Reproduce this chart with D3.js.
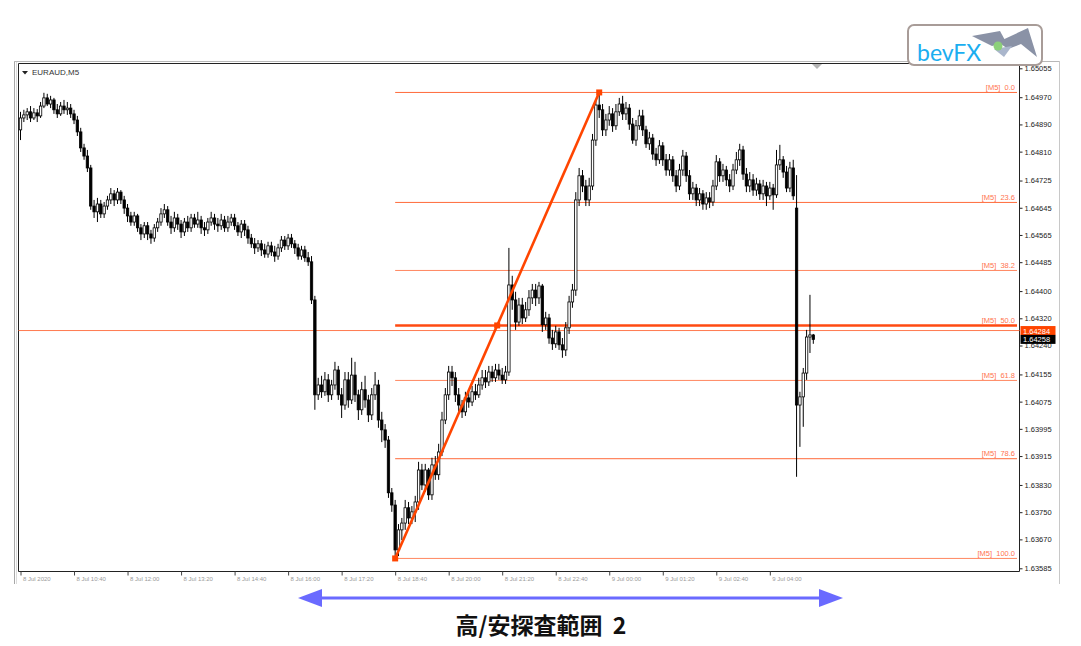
<!DOCTYPE html>
<html><head><meta charset="utf-8">
<script src="https://cdn.jsdelivr.net/npm/d3@7"></script>
<style>
body{margin:0;background:#fff;}
svg{display:block;font-family:"Liberation Sans",Arial,sans-serif;}
</style>
</head><body>
<svg id="c" width="1081" height="646"></svg>
<script>
// ---------------- DATA ----------------
const symbolLabel = "EURAUD,M5";
const captionText = "高/安探査範囲  2";
const logoText = "bevFX";

const barOpen = [1.64874,1.64909,1.64918,1.64927,1.64909,1.64924,1.64915,1.64944,1.64968,1.64950,
1.64962,1.64933,1.64921,1.64944,1.64933,1.64938,1.64921,1.64903,1.64868,1.64821,
1.64797,1.64762,1.64650,1.64633,1.64656,1.64627,1.64650,1.64668,1.64686,1.64668,
1.64691,1.64668,1.64644,1.64621,1.64603,1.64621,1.64586,1.64568,1.64592,1.64568,
1.64556,1.64586,1.64603,1.64627,1.64639,1.64603,1.64586,1.64615,1.64597,1.64574,
1.64603,1.64586,1.64615,1.64597,1.64609,1.64586,1.64580,1.64603,1.64615,1.64597,
1.64592,1.64609,1.64586,1.64603,1.64615,1.64592,1.64574,1.64597,1.64580,1.64556,
1.64539,1.64527,1.64539,1.64521,1.64509,1.64533,1.64515,1.64503,1.64527,1.64550,
1.64533,1.64556,1.64539,1.64527,1.64503,1.64521,1.64498,1.64486,1.64374,1.64095,
1.64124,1.64104,1.64139,1.64095,1.64124,1.64168,1.64095,1.64065,1.64139,1.64080,
1.64153,1.64095,1.64051,1.64110,1.64080,1.64036,1.64095,1.64124,1.64021,1.63992,
1.63962,1.63807,1.63771,1.63639,1.63698,1.63718,1.63763,1.63733,1.63751,1.63780,
1.63874,1.63830,1.63874,1.63801,1.63889,1.63860,1.63927,1.64021,1.64095,1.64162,
1.64145,1.64095,1.64065,1.64045,1.64086,1.64074,1.64104,1.64095,1.64124,1.64145,
1.64133,1.64162,1.64145,1.64168,1.64153,1.64139,1.64162,1.64418,1.64374,1.64309,
1.64359,1.64321,1.64345,1.64380,1.64403,1.64380,1.64415,1.64301,1.64321,1.64262,
1.64245,1.64280,1.64242,1.64227,1.64292,1.64368,1.64403,1.64668,1.64739,1.64709,
1.64668,1.64709,1.64844,1.64947,1.64933,1.64874,1.64903,1.64921,1.64886,1.64927,
1.64950,1.64921,1.64938,1.64891,1.64844,1.64886,1.64915,1.64874,1.64833,1.64850,
1.64803,1.64786,1.64827,1.64786,1.64756,1.64786,1.64739,1.64709,1.64756,1.64797,
1.64739,1.64686,1.64703,1.64668,1.64686,1.64656,1.64674,1.64662,1.64709,1.64780,
1.64739,1.64756,1.64727,1.64709,1.64756,1.64786,1.64815,1.64744,1.64709,1.64727,
1.64697,1.64715,1.64686,1.64709,1.64680,1.64703,1.64683,1.64771,1.64786,1.64750,
1.64703,1.64762,1.64644,1.64065,1.64089,1.64159,1.64265,1.64271];

const barClose = [1.64909,1.64918,1.64927,1.64909,1.64924,1.64915,1.64944,1.64968,1.64950,1.64962,
1.64933,1.64921,1.64944,1.64933,1.64938,1.64921,1.64903,1.64868,1.64821,1.64797,
1.64762,1.64650,1.64633,1.64656,1.64627,1.64650,1.64668,1.64686,1.64668,1.64691,
1.64668,1.64644,1.64621,1.64603,1.64621,1.64586,1.64568,1.64592,1.64568,1.64556,
1.64586,1.64603,1.64627,1.64639,1.64603,1.64586,1.64615,1.64597,1.64574,1.64603,
1.64586,1.64615,1.64597,1.64609,1.64586,1.64580,1.64603,1.64615,1.64597,1.64592,
1.64609,1.64586,1.64603,1.64615,1.64592,1.64574,1.64597,1.64580,1.64556,1.64539,
1.64527,1.64539,1.64521,1.64509,1.64533,1.64515,1.64503,1.64527,1.64550,1.64533,
1.64556,1.64539,1.64527,1.64503,1.64521,1.64498,1.64486,1.64374,1.64095,1.64124,
1.64104,1.64139,1.64095,1.64124,1.64168,1.64095,1.64065,1.64139,1.64080,1.64153,
1.64095,1.64051,1.64110,1.64080,1.64036,1.64095,1.64124,1.64021,1.63992,1.63962,
1.63807,1.63771,1.63639,1.63698,1.63718,1.63763,1.63733,1.63751,1.63780,1.63874,
1.63830,1.63874,1.63801,1.63889,1.63860,1.63927,1.64021,1.64095,1.64162,1.64145,
1.64095,1.64065,1.64045,1.64086,1.64074,1.64104,1.64095,1.64124,1.64145,1.64133,
1.64162,1.64145,1.64168,1.64153,1.64139,1.64162,1.64418,1.64374,1.64309,1.64359,
1.64321,1.64345,1.64380,1.64403,1.64380,1.64415,1.64301,1.64321,1.64262,1.64245,
1.64280,1.64242,1.64227,1.64292,1.64368,1.64403,1.64668,1.64739,1.64709,1.64668,
1.64709,1.64844,1.64947,1.64933,1.64874,1.64903,1.64921,1.64886,1.64927,1.64950,
1.64921,1.64938,1.64891,1.64844,1.64886,1.64915,1.64874,1.64833,1.64850,1.64803,
1.64786,1.64827,1.64786,1.64756,1.64786,1.64739,1.64709,1.64756,1.64797,1.64739,
1.64686,1.64703,1.64668,1.64686,1.64656,1.64674,1.64662,1.64709,1.64780,1.64739,
1.64756,1.64727,1.64709,1.64756,1.64786,1.64815,1.64744,1.64709,1.64727,1.64697,
1.64715,1.64686,1.64709,1.64680,1.64703,1.64683,1.64771,1.64786,1.64750,1.64703,
1.64762,1.64680,1.64065,1.64089,1.64159,1.64265,1.64271,1.64258];

const barHigh = [1.64927,1.64933,1.64938,1.64944,1.64938,1.64935,1.64956,1.64983,1.64980,1.64974,
1.64968,1.64950,1.64956,1.64962,1.64956,1.64950,1.64933,1.64915,1.64880,1.64833,
1.64815,1.64771,1.64668,1.64674,1.64668,1.64662,1.64680,1.64703,1.64697,1.64703,
1.64697,1.64680,1.64656,1.64633,1.64633,1.64627,1.64597,1.64603,1.64603,1.64580,
1.64597,1.64615,1.64644,1.64656,1.64650,1.64621,1.64633,1.64627,1.64609,1.64615,
1.64621,1.64627,1.64627,1.64633,1.64621,1.64603,1.64615,1.64633,1.64627,1.64615,
1.64627,1.64621,1.64621,1.64627,1.64627,1.64603,1.64609,1.64609,1.64592,1.64568,
1.64556,1.64550,1.64550,1.64539,1.64545,1.64545,1.64533,1.64539,1.64562,1.64562,
1.64568,1.64568,1.64550,1.64539,1.64533,1.64533,1.64515,1.64503,1.64386,1.64145,
1.64151,1.64162,1.64156,1.64139,1.64192,1.64180,1.64115,1.64162,1.64162,1.64204,
1.64192,1.64110,1.64133,1.64151,1.64095,1.64115,1.64162,1.64139,1.64045,1.64009,
1.63974,1.63821,1.63786,1.63715,1.63733,1.63786,1.63780,1.63768,1.63798,1.63898,
1.63892,1.63892,1.63880,1.63910,1.63915,1.63951,1.64045,1.64115,1.64180,1.64180,
1.64162,1.64115,1.64080,1.64104,1.64104,1.64121,1.64127,1.64145,1.64168,1.64168,
1.64180,1.64180,1.64186,1.64186,1.64174,1.64180,1.64527,1.64445,1.64398,1.64380,
1.64380,1.64368,1.64403,1.64421,1.64421,1.64427,1.64421,1.64339,1.64333,1.64286,
1.64298,1.64292,1.64262,1.64309,1.64386,1.64421,1.64691,1.64762,1.64756,1.64727,
1.64733,1.64862,1.64962,1.64984,1.64950,1.64921,1.64944,1.64938,1.64950,1.64968,
1.64974,1.64956,1.64950,1.64909,1.64903,1.64933,1.64933,1.64886,1.64868,1.64862,
1.64821,1.64844,1.64838,1.64803,1.64803,1.64797,1.64756,1.64774,1.64815,1.64809,
1.64756,1.64721,1.64715,1.64703,1.64697,1.64691,1.64691,1.64727,1.64800,1.64791,
1.64774,1.64768,1.64744,1.64774,1.64809,1.64833,1.64827,1.64762,1.64750,1.64744,
1.64733,1.64727,1.64727,1.64721,1.64721,1.64715,1.64815,1.64830,1.64797,1.64768,
1.64780,1.64786,1.64741,1.64104,1.64174,1.64286,1.64389,1.64274];

const barLow = [1.64844,1.64897,1.64903,1.64897,1.64903,1.64897,1.64909,1.64938,1.64944,1.64938,
1.64921,1.64909,1.64915,1.64921,1.64918,1.64909,1.64891,1.64856,1.64809,1.64786,
1.64750,1.64639,1.64615,1.64603,1.64615,1.64615,1.64639,1.64656,1.64650,1.64656,
1.64656,1.64627,1.64603,1.64592,1.64592,1.64574,1.64550,1.64556,1.64550,1.64539,
1.64545,1.64574,1.64592,1.64615,1.64592,1.64568,1.64574,1.64580,1.64556,1.64562,
1.64574,1.64574,1.64586,1.64586,1.64568,1.64562,1.64568,1.64592,1.64580,1.64574,
1.64580,1.64574,1.64574,1.64592,1.64580,1.64562,1.64556,1.64562,1.64539,1.64527,
1.64509,1.64515,1.64503,1.64498,1.64498,1.64503,1.64486,1.64492,1.64515,1.64521,
1.64521,1.64527,1.64509,1.64492,1.64492,1.64486,1.64474,1.64362,1.64051,1.64080,
1.64086,1.64092,1.64074,1.64080,1.64110,1.64080,1.64027,1.64051,1.64057,1.64068,
1.64074,1.64021,1.64036,1.64057,1.64015,1.64021,1.64080,1.63998,1.63956,1.63939,
1.63792,1.63751,1.63614,1.63621,1.63668,1.63698,1.63715,1.63715,1.63721,1.63757,
1.63815,1.63810,1.63786,1.63786,1.63845,1.63845,1.63915,1.64009,1.64080,1.64121,
1.64074,1.64045,1.64027,1.64033,1.64057,1.64062,1.64080,1.64086,1.64110,1.64115,
1.64121,1.64133,1.64133,1.64139,1.64127,1.64127,1.64151,1.64345,1.64286,1.64298,
1.64303,1.64309,1.64327,1.64362,1.64356,1.64362,1.64280,1.64286,1.64245,1.64227,
1.64233,1.64227,1.64204,1.64209,1.64274,1.64351,1.64386,1.64650,1.64691,1.64650,
1.64650,1.64697,1.64827,1.64909,1.64856,1.64856,1.64886,1.64868,1.64874,1.64915,
1.64903,1.64903,1.64874,1.64833,1.64827,1.64874,1.64856,1.64821,1.64815,1.64786,
1.64768,1.64774,1.64768,1.64739,1.64739,1.64721,1.64691,1.64697,1.64739,1.64721,
1.64668,1.64668,1.64650,1.64650,1.64639,1.64639,1.64644,1.64650,1.64697,1.64721,
1.64721,1.64709,1.64691,1.64697,1.64744,1.64768,1.64727,1.64691,1.64691,1.64680,
1.64680,1.64668,1.64668,1.64650,1.64668,1.64639,1.64674,1.64756,1.64733,1.64691,
1.64691,1.64668,1.63854,1.63942,1.64001,1.64139,1.64218,1.64245];

const yTickLabels = ["1.65055","1.64970","1.64890","1.64810","1.64725","1.64645","1.64565",
  "1.64485","1.64400","1.64320","1.64240","1.64155","1.64075","1.63995","1.63915",
  "1.63830","1.63750","1.63670","1.63585"];
const timeLabels = ["8 Jul 2020","8 Jul 10:40","8 Jul 12:00","8 Jul 13:20","8 Jul 14:40",
  "8 Jul 16:00","8 Jul 17:20","8 Jul 18:40","8 Jul 20:00","8 Jul 21:20","8 Jul 22:40",
  "9 Jul 00:00","9 Jul 01:20","9 Jul 02:40","9 Jul 04:00"];
const timeLabelEvery = 16;

const fibLevels = [0, 23.6, 38.2, 50, 61.8, 78.6, 100];
const fibHigh = 1.64984, fibLow = 1.63614;
const fibStartBar = 112, fibEndBar = 173;
const hLinePrice = 1.64284;   // orange horizontal line / label
const bidPrice = 1.64258;     // last price label

// ---------------- DRAW ----------------
const svg = d3.select("#c");
const n = barClose.length;
const bars = d3.range(n).map(i => ({i, o: barOpen[i], h: barHigh[i], l: barLow[i], c: barClose[i]}));

const frame = {left: 18.5, right: 1019.5, top: 63.5, bottom: 571.5};
const x = d3.scaleLinear().domain([0, n - 1]).range([20.5, 813.3]);
const y = d3.scaleLinear().domain([1.63585, 1.65055]).range([568.3, 68.3]);

// window borders (gray)
svg.append("line").attr("x1", 14.5).attr("x2", 14.5).attr("y1", 61).attr("y2", 584).attr("stroke", "#a8a8a8");
svg.append("line").attr("x1", 16.5).attr("x2", 16.5).attr("y1", 61).attr("y2", 584).attr("stroke", "#dcdcdc");
svg.append("line").attr("x1", 14).attr("x2", 1060).attr("y1", 61.5).attr("y2", 61.5).attr("stroke", "#b8b8b8");
svg.append("line").attr("x1", 1059.5).attr("x2", 1059.5).attr("y1", 61).attr("y2", 584).attr("stroke", "#c8c8c8");

// chart frame
svg.append("path")
  .attr("d", `M${frame.left},${frame.bottom}V${frame.top}H${frame.right}V${frame.bottom}H${frame.left}`)
  .attr("fill", "none").attr("stroke", "#222").attr("stroke-width", 1);

// shift marker
svg.append("path").attr("d", "M812,64H822L817,69Z").attr("fill", "#b4b4b4");

// symbol label
svg.append("path").attr("d", "M22,71H28L25,74.5Z").attr("fill", "#222");
svg.append("text").attr("x", 32).attr("y", 75).attr("font-size", 8).attr("fill", "#333").text(symbolLabel);

// horizontal line at 1.64284
svg.append("line").attr("x1", frame.left).attr("x2", frame.right)
  .attr("y1", y(hLinePrice)).attr("y2", y(hLinePrice))
  .attr("stroke", "#ff7a50").attr("stroke-width", 1);

// fibonacci levels
const fibX1 = x(fibStartBar), fibX2 = 1017;
const fibG = svg.append("g");
fibLevels.forEach(lv => {
  const p = fibHigh - (fibHigh - fibLow) * lv / 100;
  const yy = y(p);
  fibG.append("line").attr("x1", fibX1).attr("x2", fibX2).attr("y1", yy).attr("y2", yy)
    .attr("stroke", lv === 50 ? "#ff4a12" : "#ff6a3a")
    .attr("stroke-width", lv === 50 ? 2.6 : 1)
    .attr("opacity", (lv === 38.2 || lv === 61.8 || lv === 100) ? 0.8 : 1);
  fibG.append("text").attr("x", 1015).attr("y", yy - 2.5)
    .attr("text-anchor", "end").attr("font-size", 7.5).attr("fill", "#ff7450")
    .style("white-space", "pre")
    .text(`[M5]  ${lv.toFixed(1)}`);
});

// candles
const bw = 2.4;
const cg = svg.append("g");
cg.selectAll("line.wick").data(bars).join("line").attr("class", "wick")
  .attr("x1", d => x(d.i)).attr("x2", d => x(d.i))
  .attr("y1", d => y(d.h)).attr("y2", d => y(d.l))
  .attr("stroke", "#000").attr("stroke-width", 1);
cg.selectAll("rect.body").data(bars).join("rect").attr("class", "body")
  .attr("x", d => x(d.i) - bw / 2)
  .attr("y", d => y(Math.max(d.o, d.c)))
  .attr("width", bw)
  .attr("height", d => Math.max(0.8, Math.abs(y(d.o) - y(d.c))))
  .attr("fill", d => d.c >= d.o ? "#fff" : "#000")
  .attr("stroke", "#000").attr("stroke-width", 0.8);

// trend line
const tx1 = x(fibStartBar), ty1 = y(fibLow), tx2 = x(fibEndBar), ty2 = y(fibHigh);
svg.append("line").attr("x1", tx1).attr("y1", ty1).attr("x2", tx2).attr("y2", ty2)
  .attr("stroke", "#ff4500").attr("stroke-width", 2.6);
[[tx1, ty1], [(tx1 + tx2) / 2, (ty1 + ty2) / 2], [tx2, ty2]].forEach(([a, b]) => {
  svg.append("rect").attr("x", a - 3).attr("y", b - 3).attr("width", 6).attr("height", 6).attr("fill", "#ff4500");
});

// y axis
const yAxisG = svg.append("g").attr("transform", `translate(${frame.right},0)`)
  .call(d3.axisRight(y).tickValues(yTickLabels.map(Number))
    .tickFormat((d, i) => yTickLabels[i]).tickSize(3).tickPadding(2));
yAxisG.select(".domain").remove();
yAxisG.selectAll("line").attr("stroke", "#222");
yAxisG.selectAll("text").attr("font-size", 7.5).attr("fill", "#222")
  .attr("font-family", "Liberation Sans, Arial, sans-serif");

// price boxes
[[hLinePrice, "#ff4500"], [bidPrice, "#000"]].forEach(([p, col]) => {
  const yy = y(p);
  svg.append("rect").attr("x", 1020.5).attr("y", yy - 4.5).attr("width", 35).attr("height", 9).attr("fill", col);
  svg.append("text").attr("x", 1023).attr("y", yy + 3).attr("font-size", 7.5).attr("fill", "#fff")
    .text(d3.format(".5f")(p));
});

// x axis
const xAxisG = svg.append("g").attr("transform", `translate(0,${frame.bottom})`)
  .call(d3.axisBottom(x).tickValues(d3.range(0, n, timeLabelEvery))
    .tickFormat((d, i) => timeLabels[i]).tickSize(4).tickPadding(1));
xAxisG.select(".domain").remove();
xAxisG.selectAll("line").attr("stroke", "#444");
xAxisG.selectAll("text").attr("text-anchor", "start").attr("dx", 2)
  .attr("font-size", 6).attr("fill", "#9a9a9a")
  .attr("font-family", "Liberation Sans, Arial, sans-serif");

// logo
const lg = svg.append("g");
lg.append("rect").attr("x", 908).attr("y", 25).attr("width", 134).attr("height", 40).attr("rx", 6)
  .attr("fill", "#fff").attr("stroke", "#a89c98").attr("stroke-width", 2);
lg.append("path").attr("d", "M972,36L1000,31L1006,42L992,46Z").attr("fill", "#8a92a6");
lg.append("path").attr("d", "M998,42L1028,28L1037,57L1021,44L1008,49Z").attr("fill", "#8a92a6");
lg.append("path").attr("d", "M994,49L1012,46L1004,57Z").attr("fill", "#aab6cc");
lg.append("circle").attr("cx", 998).attr("cy", 46).attr("r", 4.5).attr("fill", "#8cd07a");
lg.append("text").attr("x", 917).attr("y", 61).attr("font-size", 23)
  .attr("font-family", "Lato, 'Open Sans', sans-serif").attr("fill", "#1aaef0").text(logoText);

// caption arrow
const ag = svg.append("g");
ag.append("line").attr("x1", 318).attr("x2", 823).attr("y1", 598).attr("y2", 598)
  .attr("stroke", "#6a6aff").attr("stroke-width", 3);
ag.append("path").attr("d", "M298,598L322,589L322,607Z").attr("fill", "#6a6aff");
ag.append("path").attr("d", "M843,598L819,589L819,607Z").attr("fill", "#6a6aff");
svg.append("text").attr("x", 541).attr("y", 634).attr("text-anchor", "middle")
  .attr("font-size", 23).attr("font-weight", "bold")
  .attr("font-family", "'Noto Sans CJK JP', sans-serif").attr("fill", "#111")
  .style("white-space", "pre")
  .text(captionText);
</script>
</body></html>
